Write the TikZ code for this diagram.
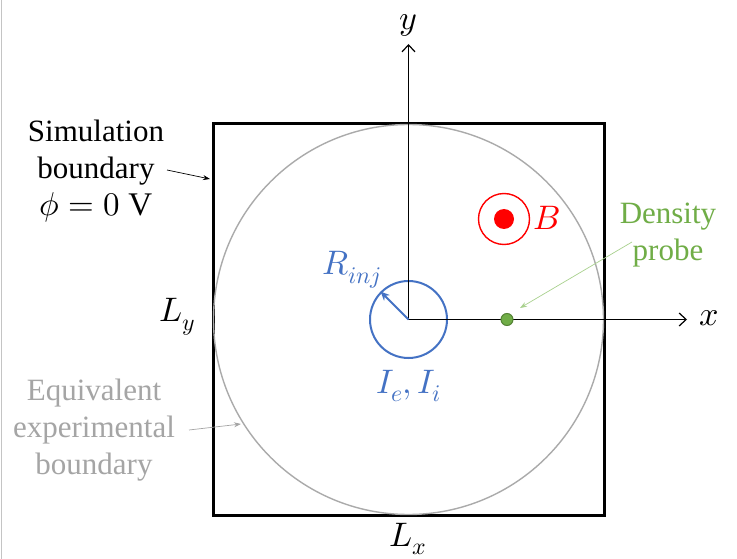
\documentclass[tikz,border=0pt]{standalone}
\usepackage{fontspec}
\usepackage{unicode-math}
\setmainfont{Liberation Serif}
\setmathfont{Latin Modern Math}
\usetikzlibrary{arrows.meta}
\definecolor{myblue}{RGB}{68,114,196}
\definecolor{mygreen}{RGB}{112,173,71}
\definecolor{darkgreen}{RGB}{84,130,53}
\definecolor{lightgreen}{RGB}{169,209,142}
\definecolor{mygray}{RGB}{170,170,170}
\definecolor{txtgray}{RGB}{165,165,165}
\definecolor{myred}{RGB}{255,0,0}
\begin{document}
\begin{tikzpicture}[x=1pt,y=-1pt,
  txt/.style={font=\fontsize{31}{37}\selectfont, align=center, inner sep=0pt},
  mth/.style={font=\fontsize{34}{40}\selectfont, inner sep=0pt},
  axis/.style={line width=1.2pt, -{Straight Barb[length=7pt,width=13pt,line width=1.2pt]}},
  note/.style={line width=0.7pt, -{Stealth[length=7pt,width=5pt]}}
]
\useasboundingbox (0,0) rectangle (737,559);
\fill[white] (0,0) rectangle (737,559);
\draw[mygray!70, line width=1.5pt] (1.5,0) -- (1.5,559);

% simulation boundary square
\node[draw, line width=3pt, minimum width=391pt, minimum height=391pt, inner sep=0pt] (box) at (408.5,319.5) {};
% equivalent experimental boundary
\node[draw=mygray, line width=1.4pt, circle, minimum size=390pt, inner sep=0pt] (expc) at (408.5,319.5) {};
% injection circle
\node[draw=myblue, line width=2pt, circle, minimum size=77pt, inner sep=0pt] (inj) at (408.5,319.5) {};
\coordinate (O) at (408.5,319.5);

% axes
\coordinate (ytip) at (408.5,44);
\coordinate (xtip) at (687,319.5);
\draw[axis] (O) -- (ytip);
\draw[axis] (O) -- (xtip);
\node[mth] (ylab) at (408,25) {$y$};
\node[mth] (xlab) at (709,318) {$x$};

% radius arrow
\draw[myblue, line width=1.8pt, -{Stealth[length=9pt,width=8pt]}] (O) -- (inj.135);
\node[mth, text=myblue] (rlab) at (352,270) {$R_{inj}$};
\node[mth, text=myblue] (ilab) at (409,386) {$I_e,I_i$};

% density probe
\node[circle, fill=mygreen, draw=darkgreen, line width=1pt, minimum size=12pt, inner sep=0pt] (probe) at (507,319.5) {};
\node[txt, text=mygreen] (plab) at (668,235) {Density\\probe};
\coordinate (pstart) at (632,242);
\coordinate (pend) at (520,308);
\draw[note, draw=lightgreen] (pstart) -- (pend);

% magnetic field
\node[circle, draw=myred, line width=1.4pt, minimum size=51pt, inner sep=0pt] (Bring) at (504,219) {};
\node[circle, fill=myred, minimum size=20pt, inner sep=0pt] (Bdot) at (504,219) {};
\node[mth, text=myred] (Blab) at (547,218) {$B$};

% side labels
\node[mth] (Ly) at (177,317) {$L_y$};
\node[mth] (Lx) at (408,539) {$L_x$};

% simulation boundary label
\node[txt] (slab) at (96,171) {Simulation\\boundary\\{\fontsize{33}{37}\selectfont$\phi=0\ \mathrm{V}$}};
\coordinate (sstart) at (167,170);
\coordinate (send) at (210,179);
\draw[note] (sstart) -- (send);

% equivalent experimental boundary label
\node[txt, text=txtgray] (elab) at (94,430) {Equivalent\\experimental\\boundary};
\coordinate (estart) at (189,430);
\coordinate (eend) at (241,424);
\draw[note, draw=txtgray] (estart) -- (eend);
\end{tikzpicture}
\end{document}
